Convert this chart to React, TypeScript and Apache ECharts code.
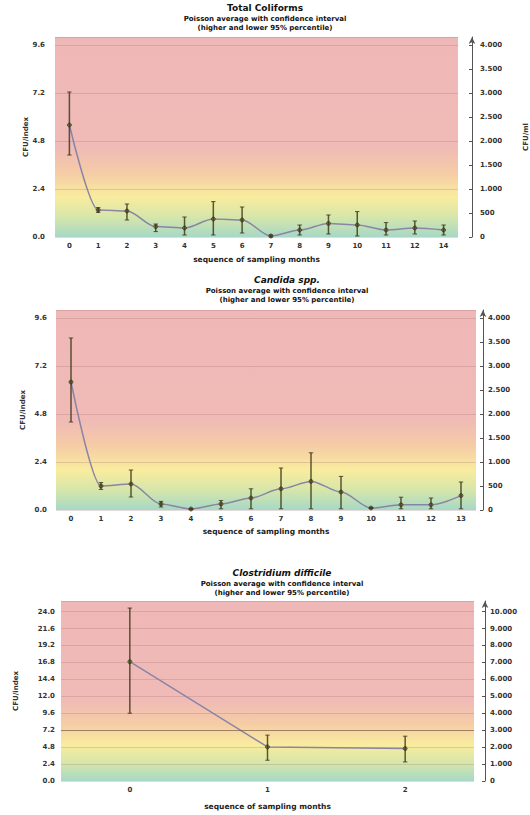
import React, { useEffect, useRef } from "react";
import * as echarts from "echarts";

// ---- Data (left axis units: CFU/index; right axis is CFU/ml = left / 0.0024) ----
const tcMonths = ["0", "1", "2", "3", "4", "5", "6", "7", "8", "9", "10", "11", "12", "14"];
const tcMean = [5.6, 1.35, 1.3, 0.52, 0.45, 0.9, 0.85, 0.05, 0.35, 0.68, 0.6, 0.35, 0.45, 0.35];
const tcLow = [4.1, 1.23, 0.85, 0.27, 0.1, 0.1, 0.2, 0.0, 0.1, 0.15, 0.05, 0.1, 0.15, 0.1];
const tcHigh = [7.25, 1.47, 1.65, 0.65, 1.0, 1.77, 1.5, 0.1, 0.6, 1.1, 1.27, 0.72, 0.8, 0.6];

const caMonths = ["0", "1", "2", "3", "4", "5", "6", "7", "8", "9", "10", "11", "12", "13"];
const caMean = [6.4, 1.2, 1.3, 0.3, 0.05, 0.3, 0.6, 1.06, 1.43, 0.9, 0.1, 0.26, 0.26, 0.72];
const caLow = [4.4, 1.03, 0.65, 0.15, 0.02, 0.06, 0.06, 0.06, 0.06, 0.06, 0.08, 0.06, 0.06, 0.06];
const caHigh = [8.6, 1.37, 2.0, 0.43, 0.08, 0.47, 1.06, 2.1, 2.86, 1.68, 0.12, 0.64, 0.6, 1.4];

const cdMonths = ["0", "1", "2"];
const cdMean = [16.9, 4.83, 4.6];
const cdLow = [9.6, 2.94, 2.7];
const cdHigh = [24.5, 6.5, 6.35];

const titles = ["Total Coliforms", "Candida spp.", "Clostridium difficile"];
const subTitle = "Poisson average with confidence interval\n(higher and lower 95% percentile)";
const xName = "sequence of sampling months";
const leftName = "CFU/index";
const rightName = "CFU/ml";

const FONT = "DejaVu Sans";

function thousands(v: number): string {
  const s = String(Math.round(v));
  return s.replace(/\B(?=(\d{3})+(?!\d))/g, ".");
}

const bgGradient = () =>
  new echarts.graphic.LinearGradient(0, 0, 0, 1, [
    { offset: 0, color: "#efb8b8" },
    { offset: 0.55, color: "#f0bab6" },
    { offset: 0.68, color: "#f5cca6" },
    { offset: 0.8, color: "#f9ec9e" },
    { offset: 0.9, color: "#d6e6aa" },
    { offset: 1, color: "#a6d8c6" },
  ]);

export default function App() {
  const ref = useRef<HTMLDivElement>(null);
  useEffect(() => {
    document.body.style.margin = "0";
    const chart = echarts.init(ref.current!, undefined, { renderer: "svg" });

    const panels = [
      { cats: tcMonths, mean: tcMean, low: tcLow, high: tcHigh, grid: { left: 55, top: 37, width: 403, height: 200 }, lmax: 10, linterval: 2.4, rmax: 10 / 0.0024, rinterval: 500, roffset: 14, lmargin: 10, rmargin: 8, lgap: 26, xgap: 18, titleX: 265, titleY: 2, italic: false, smooth: 0.3, showRightName: true },
      { cats: caMonths, mean: caMean, low: caLow, high: caHigh, grid: { left: 56, top: 310, width: 420, height: 200 }, lmax: 10, linterval: 2.4, rmax: 10 / 0.0024, rinterval: 500, roffset: 7, lmargin: 9, rmargin: 5, lgap: 30, xgap: 17, titleX: 287, titleY: 274, italic: true, smooth: 0.3, showRightName: false },
      { cats: cdMonths, mean: cdMean, low: cdLow, high: cdHigh, grid: { left: 61, top: 601, width: 413, height: 180 }, lmax: 25.5, linterval: 2.4, rmax: 25.5 / 0.0024, rinterval: 1000, roffset: 11, lmargin: 6, rmargin: 5, lgap: 42, xgap: 21, titleX: 282, titleY: 567, italic: true, smooth: false, showRightName: false },
    ];

    const labelStyle = { fontFamily: FONT, fontSize: 7, fontWeight: "bold" as const, color: "#333" };

    const option: any = {
      animation: false,
      backgroundColor: "#ffffff",
      title: panels.map((p, i) => ({
        text: titles[i],
        subtext: subTitle,
        left: p.titleX,
        top: p.titleY,
        textAlign: "center",
        itemGap: 1.5,
        padding: 0,
        textStyle: { fontFamily: FONT, fontSize: 9, fontWeight: "bold", fontStyle: p.italic ? "italic" : "normal", color: "#111", lineHeight: 11 },
        subtextStyle: { fontFamily: FONT, fontSize: 7, fontWeight: "bold", color: "#111", lineHeight: 9 },
      })),
      grid: panels.map((p) => ({
        ...p.grid,
        show: true,
        outerBoundsMode: "none",
        containLabel: false,
        backgroundColor: bgGradient(),
        borderWidth: 0,
      })),
      xAxis: panels.map((p, i) => ({
        type: "category",
        gridIndex: i,
        data: p.cats,
        boundaryGap: true,
        axisLine: { show: false },
        axisTick: { show: false },
        axisLabel: { ...labelStyle, margin: 5 },
        name: xName,
        nameLocation: "middle",
        nameGap: p.xgap,
        nameMoveOverlap: false,
        nameTextStyle: { fontFamily: FONT, fontSize: 7.5, fontWeight: "bold", color: "#222" },
      })),
      yAxis: panels.flatMap((p, i) => [
        {
          type: "value",
          gridIndex: i,
          position: "left",
          min: 0,
          max: p.lmax,
          interval: p.linterval,
          axisLine: { show: false },
          axisTick: { show: false },
          axisLabel: { ...labelStyle, margin: p.lmargin, showMaxLabel: false, formatter: (v: number) => v.toFixed(1) },
          splitLine: { show: true, lineStyle: { color: "rgba(140,90,90,0.22)", width: 1 } },
          name: leftName,
          nameLocation: "middle",
          nameGap: p.lgap,
          nameMoveOverlap: false,
          nameTextStyle: { fontFamily: FONT, fontSize: 7, fontWeight: "bold", color: "#333" },
        },
        {
          type: "value",
          gridIndex: i,
          position: "right",
          offset: p.roffset,
          min: 0,
          max: p.rmax,
          interval: p.rinterval,
          axisLine: { show: true, lineStyle: { color: "#555", width: 1 }, symbol: ["none", "arrow"], symbolSize: [5, 7] },
          axisTick: { show: true, inside: true, length: 3, lineStyle: { color: "#555" } },
          axisLabel: { ...labelStyle, margin: p.rmargin, showMaxLabel: false, formatter: (v: number) => thousands(v) },
          splitLine: { show: false },
          name: p.showRightName ? rightName : "",
          nameLocation: "middle",
          nameGap: 50,
          nameTextStyle: { fontFamily: FONT, fontSize: 7, fontWeight: "bold", color: "#333" },
        },
      ]),
      series: panels.flatMap((p, i) => {
        const s: any[] = [
          {
            type: "line",
            xAxisIndex: i,
            yAxisIndex: i * 2,
            data: p.mean,
            smooth: p.smooth,
            smoothMonotone: "x",
            z: 2,
            lineStyle: { color: "#8a84a6", width: 1.5 },
            symbol: "circle",
            symbolSize: 4,
            itemStyle: { color: "#7a7448", borderColor: "#4a4528", borderWidth: 0.8 },
            markLine:
              i === 2
                ? {
                    silent: true,
                    symbol: "none",
                    label: { show: false },
                    lineStyle: { color: "rgba(110,80,50,0.55)", type: "solid", width: 1 },
                    data: [{ yAxis: 7.2 }],
                  }
                : undefined,
          },
          {
            type: "custom",
            xAxisIndex: i,
            yAxisIndex: i * 2,
            z: 3,
            data: p.cats.map((_, k) => [k, p.low[k], p.high[k]]),
            encode: { x: 0, y: [1, 2] },
            renderItem: (params: any, api: any) => {
              const x = api.value(0);
              const lo = api.coord([x, api.value(1)]);
              const hi = api.coord([x, api.value(2)]);
              const w = 2.2;
              const st = { stroke: "rgba(55,50,20,0.8)", lineWidth: 1.5 };
              return {
                type: "group",
                children: [
                  { type: "line", shape: { x1: lo[0], y1: lo[1], x2: hi[0], y2: hi[1] }, style: st },
                  { type: "line", shape: { x1: lo[0] - w, y1: lo[1], x2: lo[0] + w, y2: lo[1] }, style: { ...st, lineWidth: 1 } },
                  { type: "line", shape: { x1: hi[0] - w, y1: hi[1], x2: hi[0] + w, y2: hi[1] }, style: { ...st, lineWidth: 1 } },
                ],
              };
            },
          },
        ];
        return s;
      }),
    };

    chart.setOption(option);
    return () => chart.dispose();
  }, []);

  return <div ref={ref} style={{ width: 530, height: 815 }} />;
}
